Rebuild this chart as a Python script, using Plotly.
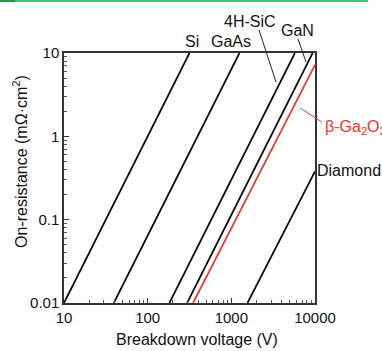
import plotly.graph_objects as go

# Data: each line's two end points (V, R)
materials = ["Si", "GaAs", "4H-SiC", "GaN", "β-Ga2O3", "Diamond"]
volt_start = [10, 39.4, 182, 296, 349, 1560]
volt_end = [316, 1250, 5750, 9360, 10000, 10000]
res_start = [0.01, 0.01, 0.01, 0.01, 0.01, 0.01]
res_end = [10, 10, 10, 10, 7.2, 0.38]
colors = ["black", "black", "black", "black", "#e8362c", "black"]

x_ticks = [10, 100, 1000, 10000]
x_tick_text = ["10", "100", "1000", "10000"]
y_ticks = [0.01, 0.1, 1, 10]
y_tick_text = ["0.01", "0.1", "1", "10"]
minor_mult = [2, 3, 4, 5, 6, 7, 8, 9]
x_minor = [m * d for d in [10, 100, 1000] for m in minor_mult]
y_minor = [m * d for d in [0.01, 0.1, 1] for m in minor_mult]

W, H = 382, 351
L, R, T, B = 64, 315, 53, 303

def px(x):
    return (x - L) / (R - L)

def py(y):
    return (B - y) / (B - T)

fig = go.Figure()
for m, v0, v1, r0, r1, c in zip(materials, volt_start, volt_end, res_start, res_end, colors):
    fig.add_trace(go.Scatter(x=[v0, v1], y=[r0, r1], mode="lines",
                             line=dict(color=c, width=1.7), name=m,
                             showlegend=False, hoverinfo="skip"))

font = "Liberation Sans, Arial, sans-serif"
fig.update_layout(
    width=W, height=H,
    margin=dict(l=L, r=W - R, t=T, b=H - B),
    paper_bgcolor="white", plot_bgcolor="white",
    font=dict(family=font, size=15, color="#111"),
    showlegend=False,
)
fig.update_xaxes(type="log", range=[1, 4], tickmode="array", tickvals=x_ticks, ticktext=x_tick_text,
                 ticks="inside", ticklen=5, tickwidth=1.2, tickcolor="#333", showgrid=False,
                 showline=True, linecolor="#333", linewidth=1.5, mirror=True,
                 zeroline=False, tickfont=dict(size=15),
                 minor=dict(tickmode="array", tickvals=x_minor, ticks="inside", ticklen=3,
                            tickcolor="#555", showgrid=False))
fig.update_yaxes(type="log", range=[-2, 1], tickmode="array", tickvals=y_ticks, ticktext=y_tick_text,
                 ticks="inside", ticklen=5, tickwidth=1.2, tickcolor="#333", showgrid=False,
                 showline=True, linecolor="#333", linewidth=1.5, mirror=True,
                 zeroline=False, tickfont=dict(size=15),
                 minor=dict(tickmode="array", tickvals=y_minor, ticks="inside", ticklen=3,
                            tickcolor="#555", showgrid=False))

ann = []
def label(text, x, y, color="#111", xanchor="center", angle=0, size=16):
    ann.append(dict(text=text, x=px(x), y=py(y), xref="paper", yref="paper",
                    showarrow=False, xanchor=xanchor, yanchor="middle",
                    textangle=angle, font=dict(size=size, color=color, family=font)))

label("Si", 192, 42)
label("GaAs", 231, 42)
label("4H-SiC", 250, 21)
label("GaN", 297, 31)
label("β-Ga<sub>2</sub>O<sub>3</sub>", 323, 127, color="#e8362c", xanchor="left")
label("Diamond", 315, 170, xanchor="left")
label("Breakdown voltage (V)", 197, 339)
label("On-resistance (mΩ·cm<sup>2</sup>)", 20, 162, angle=-90)
fig.update_layout(annotations=ann)

shapes = [
    dict(type="line", xref="paper", yref="paper", x0=px(259), y0=py(30), x1=px(276), y1=py(82),
         line=dict(color="#222", width=1)),
    dict(type="line", xref="paper", yref="paper", x0=px(298), y0=py(39), x1=px(306), y1=py(62),
         line=dict(color="#222", width=1)),
    dict(type="line", xref="paper", yref="paper", x0=px(300), y0=py(108), x1=px(322), y1=py(122),
         line=dict(color="#c0504d", width=1)),
    dict(type="line", xref="paper", yref="paper", x0=px(0), y0=py(1), x1=px(368), y1=py(1),
         line=dict(color="#4dbd7c", width=2)),
    dict(type="line", xref="paper", yref="paper", x0=px(0), y0=py(1), x1=px(15), y1=py(1),
         line=dict(color="#1a9a4a", width=2)),
]
fig.update_layout(shapes=shapes)

fig.write_html("out.html", config={"displayModeBar": False},
               post_script="document.body.style.margin='0';document.body.style.overflow='hidden';")
